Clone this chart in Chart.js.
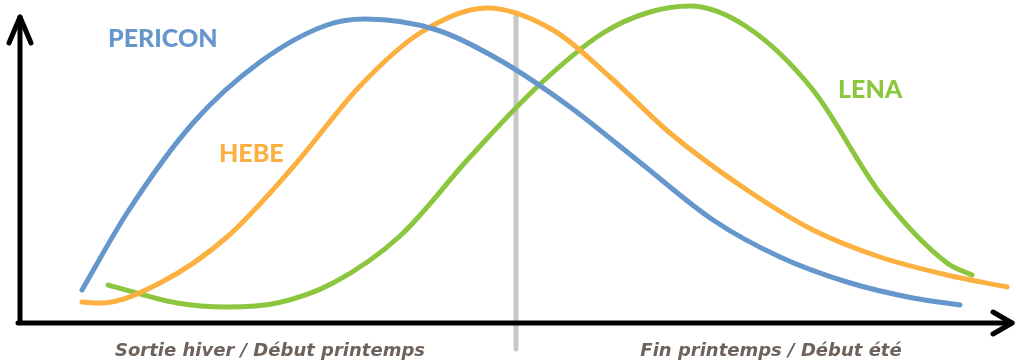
<!DOCTYPE html>
<html>
<head>
<meta charset="utf-8">
<script src="https://cdn.jsdelivr.net/npm/chart.js@4/dist/chart.umd.min.js"></script>
<style>
  html, body { margin: 0; padding: 0; background: #fff; }
  #wrap { width: 1016px; height: 362px; }
</style>
</head>
<body>
<div id="wrap"><canvas id="chart"></canvas></div>
<script>
// positions along the season (x) and relative abundance (y)
const periconX = [82, 127, 193, 260, 327, 365, 437, 503, 570, 637, 713, 780, 847, 913, 960];
const periconY = [72, 149, 239, 300, 337, 343, 332, 300, 255, 202, 142, 105, 80, 64, 57];

const hebeX = [82, 100, 160, 227, 293, 360, 420, 487, 553, 610, 670, 747, 813, 880, 947, 1007];
const hebeY = [60, 59, 79, 125, 195, 276, 329, 354, 332, 285, 229, 172, 132, 105, 87, 75];

const lenaX = [108, 177, 227, 277, 333, 400, 470, 537, 603, 650, 690, 747, 813, 880, 947, 972];
const lenaY = [77, 59, 55, 59, 79, 126, 205, 275, 329, 350, 356, 335, 272, 169, 99, 87];

const seriesNames = ['PERICON', 'HEBE', 'LENA'];
const seasonLabels = ['Sortie hiver / Début printemps', 'Fin printemps / Début été'];
const seasonSplit = 516;

const BLUE = '#6596cc';
const ORANGE = '#fbb040';
const GREEN = '#8cc63f';

const toPoints = (xs, ys) => xs.map((x, i) => ({ x: x, y: ys[i] }));

function lineDataset(label, xs, ys, color) {
  return {
    label: label,
    data: toPoints(xs, ys),
    borderColor: color,
    backgroundColor: color,
    borderWidth: 5,
    borderCapStyle: 'round',
    borderJoinStyle: 'round',
    pointRadius: 0,
    fill: false,
    cubicInterpolationMode: 'monotone',
    clip: false
  };
}

// axes with arrows + season divider, drawn under the curves
const decorations = {
  id: 'decorations',
  beforeDatasetsDraw(chart) {
    const ctx = chart.ctx;
    const xs = chart.scales.x, ys = chart.scales.y;
    ctx.save();
    ctx.lineCap = 'round';
    ctx.lineJoin = 'round';

    // divider
    ctx.strokeStyle = '#c8c8c8';
    ctx.lineWidth = 5;
    ctx.beginPath();
    ctx.moveTo(xs.getPixelForValue(seasonSplit), ys.getPixelForValue(13));
    ctx.lineTo(xs.getPixelForValue(seasonSplit), ys.getPixelForValue(346));
    ctx.stroke();

    ctx.strokeStyle = '#000';
    ctx.lineWidth = 5;
    const ox = xs.getPixelForValue(20), oy = ys.getPixelForValue(39);
    const top = ys.getPixelForValue(345), right = xs.getPixelForValue(1012);
    ctx.beginPath();
    ctx.moveTo(ox, oy);
    ctx.lineTo(ox, top);
    ctx.moveTo(ox - 2, oy);
    ctx.lineTo(right, oy);
    ctx.stroke();
    // arrow heads
    ctx.beginPath();
    ctx.moveTo(ox - 11, top + 26);
    ctx.lineTo(ox, top);
    ctx.lineTo(ox + 11, top + 26);
    ctx.moveTo(right - 19, oy - 11);
    ctx.lineTo(right, oy);
    ctx.lineTo(right - 19, oy + 11);
    ctx.stroke();
    ctx.restore();
  },
  afterDatasetsDraw(chart) {
    const ctx = chart.ctx;
    const xs = chart.scales.x, ys = chart.scales.y;
    ctx.save();
    ctx.textBaseline = 'middle';
    ctx.textAlign = 'left';
    ctx.font = '900 25px Lato';
    ctx.fillStyle = BLUE;
    ctx.fillText(seriesNames[0], xs.getPixelForValue(108), ys.getPixelForValue(323));
    ctx.fillStyle = ORANGE;
    ctx.fillText(seriesNames[1], xs.getPixelForValue(219), ys.getPixelForValue(208));
    ctx.fillStyle = GREEN;
    ctx.fillText(seriesNames[2], xs.getPixelForValue(838), ys.getPixelForValue(272));

    ctx.font = 'oblique bold 18px "DejaVu Sans"';
    ctx.fillStyle = '#6d635c';
    ctx.textAlign = 'center';
    ctx.textBaseline = 'alphabetic';
    ctx.fillText(seasonLabels[0], xs.getPixelForValue(270), ys.getPixelForValue(6));
    ctx.fillText(seasonLabels[1], xs.getPixelForValue(771), ys.getPixelForValue(6));
    ctx.restore();
  }
};

new Chart(document.getElementById('chart'), {
  type: 'line',
  data: {
    datasets: [
      lineDataset(seriesNames[0], periconX, periconY, BLUE),
      lineDataset(seriesNames[1], hebeX, hebeY, ORANGE),
      lineDataset(seriesNames[2], lenaX, lenaY, GREEN)
    ]
  },
  options: {
    responsive: true,
    maintainAspectRatio: false,
    animation: false,
    layout: { padding: 0 },
    scales: {
      x: { type: 'linear', min: 0, max: 1016, display: false },
      y: { type: 'linear', min: 0, max: 362, display: false }
    },
    plugins: {
      legend: { display: false },
      tooltip: { enabled: false }
    }
  },
  plugins: [decorations]
});
</script>
</body>
</html>
